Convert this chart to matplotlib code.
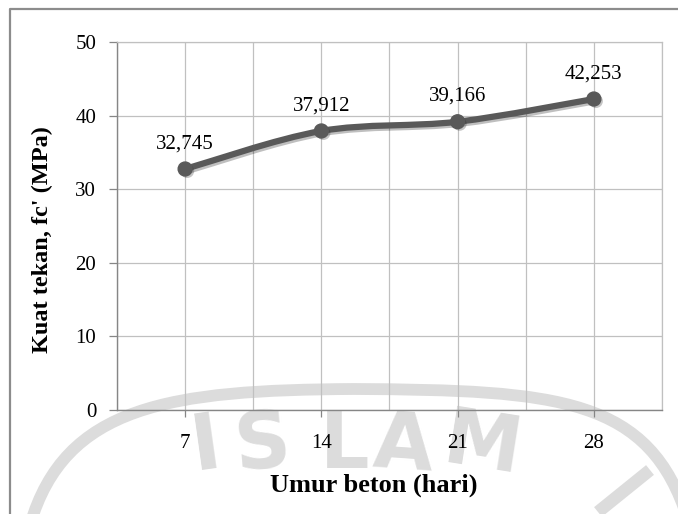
import numpy as np
import matplotlib
matplotlib.use("Agg")
import matplotlib.pyplot as plt
import matplotlib.patheffects as pe
from matplotlib.path import Path
from matplotlib.patches import PathPatch
from matplotlib import transforms

# data
umur = ["7", "14", "21", "28"]
kuat_tekan = [32.745, 37.912, 39.166, 42.253]
label_teks = ["32,745", "37,912", "39,166", "42,253"]
y_ticks = [0, 10, 20, 30, 40, 50]

plt.rcParams["font.family"] = ["Liberation Serif", "DejaVu Serif"]

W, H = 678, 514
fig = plt.figure(figsize=(W / 100, H / 100), dpi=100)
ax = fig.add_axes([117 / W, 1 - 410 / H, 545 / W, 368 / H])
ax.set_facecolor("none")

x = np.arange(len(umur))
y = np.array(kuat_tekan)

# smoothed line like Excel (Catmull-Rom bezier)
pts = np.column_stack([x, y])
verts = [pts[0]]
codes = [Path.MOVETO]
n = len(pts)
for i in range(n - 1):
    p0 = pts[max(i - 1, 0)]
    p1 = pts[i]
    p2 = pts[i + 1]
    p3 = pts[min(i + 2, n - 1)]
    c1 = p1 + (p2 - p0) / 6
    c2 = p2 - (p3 - p1) / 6
    verts += [c1, c2, p2]
    codes += [Path.CURVE4] * 3
garis = PathPatch(Path(verts, codes), facecolor="none", edgecolor="#595959",
                  lw=4.5, capstyle="round", joinstyle="round", zorder=3)
garis.set_path_effects([pe.SimpleLineShadow(offset=(1.5, -1.5), alpha=0.25),
                        pe.Normal()])
ax.add_patch(garis)
ax.plot(x, y, "o", color="#595959", ms=10, zorder=4,
        path_effects=[pe.SimplePatchShadow(offset=(1.5, -1.5), alpha=0.25),
                      pe.Normal()])

for xi, yi, t in zip(x, y, label_teks):
    ax.annotate(t, (xi, yi), xytext=(0, 15), textcoords="offset points",
                ha="center", va="baseline", fontsize=15, zorder=5)

ax.set_xlim(-0.5, 3.5)
ax.set_ylim(0, 50)
ax.set_xticks(x)
ax.set_xticklabels(umur)
ax.set_xticks(np.arange(-0.5, 4, 1), minor=True)
ax.set_yticks(y_ticks)
ax.grid(True, which="both", axis="x", color="#c0c0c0", lw=0.9, zorder=0)
ax.grid(True, which="major", axis="y", color="#c0c0c0", lw=0.9, zorder=0)
ax.tick_params(axis="x", which="minor", length=0)
ax.tick_params(axis="x", which="major", length=5, pad=12, width=0.9,
               color="#868686", labelsize=15)
ax.tick_params(axis="y", length=6, pad=9, width=0.9, color="#868686",
               labelsize=15)
for s in ["top", "right"]:
    ax.spines[s].set_color("#c0c0c0")
    ax.spines[s].set_linewidth(0.9)
for s in ["left", "bottom"]:
    ax.spines[s].set_color("#868686")
    ax.spines[s].set_linewidth(1.0)

ax.set_xlabel("Umur beton (hari)", fontsize=19, fontweight="bold", va="center")
ax.xaxis.set_label_coords((374 - 117) / 545, -75 / 368)
ax.set_ylabel("Kuat tekan, fc' (MPa)", fontsize=17.5, fontweight="bold",
              va="center", ha="center")
ax.yaxis.set_label_coords((42 - 117) / 545, (410 - 240) / 368)

# frame around the chart (pixel coords from top-left)
px = transforms.Affine2D().scale(1 / W, -1 / H).translate(0, 1) + fig.transFigure
fig.add_artist(plt.Line2D([9.5, 9.5, W], [H, 8.5, 8.5], transform=px,
                          color="#8c8c8c", lw=1.6))

# faint watermark behind the chart
wm = "#dcdcdc"
ring = Path([(30, 525), (65, 405), (170, 390), (354, 389),
             (560, 390), (650, 398), (688, 520)],
            [Path.MOVETO, Path.CURVE4, Path.CURVE4, Path.CURVE4,
             Path.CURVE4, Path.CURVE4, Path.CURVE4])
fig.add_artist(PathPatch(ring, transform=px, facecolor="none", edgecolor=wm,
                         lw=8.5, zorder=-1))
for ch, cx, rot in zip("ISLAM", [206, 262, 345, 403, 483], [8, 5, 0, -4, -9]):
    fig.text(cx, 446, ch, transform=px, fontsize=56, fontweight="bold",
             family="DejaVu Sans", color=wm, ha="center",
             va="center", rotation=rot, zorder=-1)
fig.add_artist(plt.Line2D([650, 598], [470, 512], transform=px, color=wm,
                          lw=9, solid_capstyle="butt", zorder=-1))

fig.savefig("out.png", dpi=100)
